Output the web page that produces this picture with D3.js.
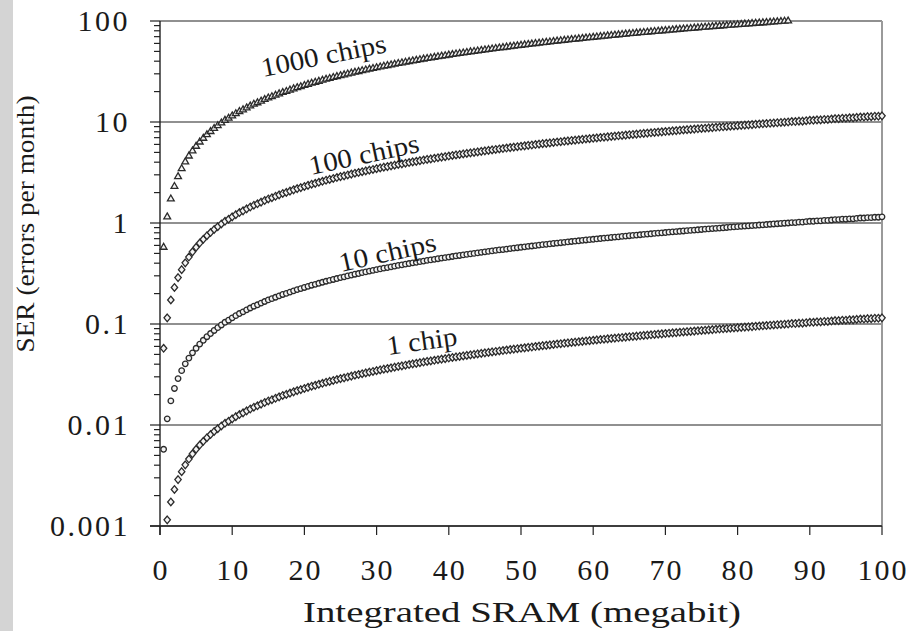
<!DOCTYPE html>
<html lang="en">
<head>
<meta charset="UTF-8">
<title>SER vs integrated SRAM</title>
<style>
  body { margin: 0; background: #fff; }
  svg text { font-family: "Liberation Serif", "Times New Roman", serif; fill: #1a1a1a; }
  .grid { stroke: #222; stroke-width: 1.2; }
  .axis-line { stroke: #222; stroke-width: 1.4; }
  .tick { stroke: #222; stroke-width: 1.2; }
  .mark { fill: #f4f4f4; stroke: #2b2b2b; stroke-width: 1.3; }
</style>
</head>
<body>
<svg width="916" height="631"></svg>
<script src="https://d3js.org/d3.v7.min.js"></script>
<script>
// integrated SRAM size (megabit), one point every 0.5 Mbit
var sizes = [
  0.5,1,1.5,2,2.5,3,3.5,4,4.5,5,5.5,6,6.5,7,7.5,8,8.5,9,9.5,10,
  10.5,11,11.5,12,12.5,13,13.5,14,14.5,15,15.5,16,16.5,17,17.5,18,18.5,19,19.5,20,
  20.5,21,21.5,22,22.5,23,23.5,24,24.5,25,25.5,26,26.5,27,27.5,28,28.5,29,29.5,30,
  30.5,31,31.5,32,32.5,33,33.5,34,34.5,35,35.5,36,36.5,37,37.5,38,38.5,39,39.5,40,
  40.5,41,41.5,42,42.5,43,43.5,44,44.5,45,45.5,46,46.5,47,47.5,48,48.5,49,49.5,50,
  50.5,51,51.5,52,52.5,53,53.5,54,54.5,55,55.5,56,56.5,57,57.5,58,58.5,59,59.5,60,
  60.5,61,61.5,62,62.5,63,63.5,64,64.5,65,65.5,66,66.5,67,67.5,68,68.5,69,69.5,70,
  70.5,71,71.5,72,72.5,73,73.5,74,74.5,75,75.5,76,76.5,77,77.5,78,78.5,79,79.5,80,
  80.5,81,81.5,82,82.5,83,83.5,84,84.5,85,85.5,86,86.5,87,87.5,88,88.5,89,89.5,90,
  90.5,91,91.5,92,92.5,93,93.5,94,94.5,95,95.5,96,96.5,97,97.5,98,98.5,99,99.5,100
];

// SER (errors per month); null = below the axis
var ser1 = [
  null,0.00115,0.00173,0.0023,0.00288,0.00345,0.00403,0.0046,0.00518,0.00575,0.00633,0.0069,0.00748,0.00805,0.00863,0.0092,0.00978,0.0104,0.0109,0.0115,
  0.0121,0.0127,0.0132,0.0138,0.0144,0.015,0.0155,0.0161,0.0167,0.0173,0.0178,0.0184,0.019,0.0196,0.0201,0.0207,0.0213,0.0219,0.0224,0.023,
  0.0236,0.0242,0.0247,0.0253,0.0259,0.0265,0.027,0.0276,0.0282,0.0288,0.0293,0.0299,0.0305,0.0311,0.0316,0.0322,0.0328,0.0334,0.0339,0.0345,
  0.0351,0.0357,0.0362,0.0368,0.0374,0.038,0.0385,0.0391,0.0397,0.0403,0.0408,0.0414,0.042,0.0426,0.0431,0.0437,0.0443,0.0449,0.0454,0.046,
  0.0466,0.0472,0.0477,0.0483,0.0489,0.0495,0.05,0.0506,0.0512,0.0518,0.0523,0.0529,0.0535,0.0541,0.0546,0.0552,0.0558,0.0564,0.0569,0.0575,
  0.0581,0.0587,0.0592,0.0598,0.0604,0.061,0.0615,0.0621,0.0627,0.0633,0.0638,0.0644,0.065,0.0656,0.0661,0.0667,0.0673,0.0679,0.0684,0.069,
  0.0696,0.0702,0.0707,0.0713,0.0719,0.0725,0.073,0.0736,0.0742,0.0748,0.0753,0.0759,0.0765,0.0771,0.0776,0.0782,0.0788,0.0794,0.0799,0.0805,
  0.0811,0.0817,0.0822,0.0828,0.0834,0.084,0.0845,0.0851,0.0857,0.0863,0.0868,0.0874,0.088,0.0886,0.0891,0.0897,0.0903,0.0909,0.0914,0.092,
  0.0926,0.0932,0.0937,0.0943,0.0949,0.0955,0.096,0.0966,0.0972,0.0978,0.0983,0.0989,0.0995,0.1,0.101,0.101,0.102,0.102,0.103,0.104,
  0.104,0.105,0.105,0.106,0.106,0.107,0.108,0.108,0.109,0.109,0.11,0.11,0.111,0.112,0.112,0.113,0.113,0.114,0.114,0.115
];
var ser10 = [
  0.00575,0.0115,0.0173,0.023,0.0288,0.0345,0.0403,0.046,0.0518,0.0575,0.0633,0.069,0.0748,0.0805,0.0863,0.092,0.0978,0.104,0.109,0.115,
  0.121,0.127,0.132,0.138,0.144,0.15,0.155,0.161,0.167,0.173,0.178,0.184,0.19,0.196,0.201,0.207,0.213,0.219,0.224,0.23,
  0.236,0.242,0.247,0.253,0.259,0.265,0.27,0.276,0.282,0.288,0.293,0.299,0.305,0.311,0.316,0.322,0.328,0.334,0.339,0.345,
  0.351,0.357,0.362,0.368,0.374,0.38,0.385,0.391,0.397,0.403,0.408,0.414,0.42,0.426,0.431,0.437,0.443,0.449,0.454,0.46,
  0.466,0.472,0.477,0.483,0.489,0.495,0.5,0.506,0.512,0.518,0.523,0.529,0.535,0.541,0.546,0.552,0.558,0.564,0.569,0.575,
  0.581,0.587,0.592,0.598,0.604,0.61,0.615,0.621,0.627,0.633,0.638,0.644,0.65,0.656,0.661,0.667,0.673,0.679,0.684,0.69,
  0.696,0.702,0.707,0.713,0.719,0.725,0.73,0.736,0.742,0.748,0.753,0.759,0.765,0.771,0.776,0.782,0.788,0.794,0.799,0.805,
  0.811,0.817,0.822,0.828,0.834,0.84,0.845,0.851,0.857,0.863,0.868,0.874,0.88,0.886,0.891,0.897,0.903,0.909,0.914,0.92,
  0.926,0.932,0.937,0.943,0.949,0.955,0.96,0.966,0.972,0.978,0.983,0.989,0.995,1,1.01,1.01,1.02,1.02,1.03,1.04,
  1.04,1.05,1.05,1.06,1.06,1.07,1.08,1.08,1.09,1.09,1.1,1.1,1.11,1.12,1.12,1.13,1.13,1.14,1.14,1.15
];
var ser100 = [
  0.0575,0.115,0.173,0.23,0.288,0.345,0.403,0.46,0.518,0.575,0.633,0.69,0.748,0.805,0.863,0.92,0.978,1.04,1.09,1.15,
  1.21,1.27,1.32,1.38,1.44,1.5,1.55,1.61,1.67,1.73,1.78,1.84,1.9,1.96,2.01,2.07,2.13,2.19,2.24,2.3,
  2.36,2.42,2.47,2.53,2.59,2.65,2.7,2.76,2.82,2.88,2.93,2.99,3.05,3.11,3.16,3.22,3.28,3.34,3.39,3.45,
  3.51,3.57,3.62,3.68,3.74,3.8,3.85,3.91,3.97,4.03,4.08,4.14,4.2,4.26,4.31,4.37,4.43,4.49,4.54,4.6,
  4.66,4.72,4.77,4.83,4.89,4.95,5,5.06,5.12,5.18,5.23,5.29,5.35,5.41,5.46,5.52,5.58,5.64,5.69,5.75,
  5.81,5.87,5.92,5.98,6.04,6.1,6.15,6.21,6.27,6.33,6.38,6.44,6.5,6.56,6.61,6.67,6.73,6.79,6.84,6.9,
  6.96,7.02,7.07,7.13,7.19,7.25,7.3,7.36,7.42,7.48,7.53,7.59,7.65,7.71,7.76,7.82,7.88,7.94,7.99,8.05,
  8.11,8.17,8.22,8.28,8.34,8.4,8.45,8.51,8.57,8.63,8.68,8.74,8.8,8.86,8.91,8.97,9.03,9.09,9.14,9.2,
  9.26,9.32,9.37,9.43,9.49,9.55,9.6,9.66,9.72,9.78,9.83,9.89,9.95,10,10.1,10.1,10.2,10.2,10.3,10.4,
  10.4,10.5,10.5,10.6,10.6,10.7,10.8,10.8,10.9,10.9,11,11,11.1,11.2,11.2,11.3,11.3,11.4,11.4,11.5
];
// 1000 chips runs off the top of the chart after ~87 Mbit
var ser1000 = [
  0.575,1.15,1.73,2.3,2.88,3.45,4.03,4.6,5.18,5.75,6.33,6.9,7.48,8.05,8.63,9.2,9.78,10.4,10.9,11.5,
  12.1,12.7,13.2,13.8,14.4,15,15.5,16.1,16.7,17.3,17.8,18.4,19,19.6,20.1,20.7,21.3,21.9,22.4,23,
  23.6,24.2,24.7,25.3,25.9,26.5,27,27.6,28.2,28.8,29.3,29.9,30.5,31.1,31.6,32.2,32.8,33.4,33.9,34.5,
  35.1,35.7,36.2,36.8,37.4,38,38.5,39.1,39.7,40.3,40.8,41.4,42,42.6,43.1,43.7,44.3,44.9,45.4,46,
  46.6,47.2,47.7,48.3,48.9,49.5,50,50.6,51.2,51.8,52.3,52.9,53.5,54.1,54.6,55.2,55.8,56.4,56.9,57.5,
  58.1,58.7,59.2,59.8,60.4,61,61.5,62.1,62.7,63.3,63.8,64.4,65,65.6,66.1,66.7,67.3,67.9,68.4,69,
  69.6,70.2,70.7,71.3,71.9,72.5,73,73.6,74.2,74.8,75.3,75.9,76.5,77.1,77.6,78.2,78.8,79.4,79.9,80.5,
  81.1,81.7,82.2,82.8,83.4,84,84.5,85.1,85.7,86.3,86.8,87.4,88,88.6,89.1,89.7,90.3,90.9,91.4,92,
  92.6,93.2,93.7,94.3,94.9,95.5,96,96.6,97.2,97.8,98.3,98.9,99.5,100
];

var seriesNames = ["1 chip", "10 chips", "100 chips", "1000 chips"];
var xTicks = [0, 10, 20, 30, 40, 50, 60, 70, 80, 90, 100];
var yTicks = [0.001, 0.01, 0.1, 1, 10, 100];
var yTickLabels = ["0.001", "0.01", "0.1", "1", "10", "100"];

(function () {
  var svg = d3.select("svg");
  var mLeft = 160, mRight = 882, mTop = 21, mBottom = 526;
  var serif = "'Liberation Serif', 'Times New Roman', serif";

  var x = d3.scaleLinear().domain([0, 100]).range([mLeft, mRight]);
  var y = d3.scaleLog().domain([0.001, 100]).range([mBottom, mTop]);

  // grey strip on the left edge
  svg.append("rect").attr("x", 0).attr("y", 0).attr("width", 13).attr("height", 631).attr("fill", "#d4d4d4");

  // horizontal grid at each decade
  svg.selectAll(".grid").data(yTicks).enter().append("line")
    .attr("class", "grid")
    .attr("x1", mLeft).attr("x2", mRight)
    .attr("y1", d => y(d)).attr("y2", d => y(d));

  // right frame edge
  svg.append("line").attr("x1", mRight).attr("x2", mRight).attr("y1", mTop).attr("y2", mBottom)
    .attr("stroke", "#9a9a9a").attr("stroke-width", 2);

  // y ticks (major + minor log ticks)
  var isMajor = d => Math.abs(Math.log10(d) - Math.round(Math.log10(d))) < 1e-9;
  svg.selectAll(".ytick").data(y.ticks()).enter().append("line")
    .attr("class", "tick")
    .attr("x1", d => isMajor(d) ? mLeft - 10 : mLeft - 6)
    .attr("x2", mLeft)
    .attr("y1", d => y(d)).attr("y2", d => y(d));

  svg.selectAll(".ylab").data(yTicks).enter().append("text")
    .attr("x", 130).attr("y", d => y(d) + 10)
    .attr("text-anchor", "end")
    .attr("font-family", serif)
    .style("font-size", "30px").style("letter-spacing", "2.5px")
    .text((d, i) => yTickLabels[i]);

  // x ticks
  svg.selectAll(".xtick").data(xTicks).enter().append("line")
    .attr("class", "tick")
    .attr("x1", d => x(d)).attr("x2", d => x(d))
    .attr("y1", mBottom).attr("y2", mBottom + 9);

  svg.selectAll(".xlab").data(xTicks).enter().append("text")
    .attr("x", d => x(d) + 1).attr("y", 580)
    .attr("text-anchor", "middle")
    .attr("font-family", serif)
    .style("font-size", "30px").style("letter-spacing", "2px")
    .text(d => d);

  // axis lines
  svg.append("line").attr("class", "axis-line").attr("x1", mLeft).attr("x2", mLeft).attr("y1", mTop).attr("y2", mBottom + 9);
  svg.append("line").attr("class", "axis-line").attr("x1", mLeft - 10).attr("x2", mRight).attr("y1", mBottom).attr("y2", mBottom);

  // markers
  var diamond = "M0,-3.8L3.2,0L0,3.8L-3.2,0Z";
  var triangle = d3.symbol().type(d3.symbolTriangle).size(20)();
  var circle = d3.symbol().type(d3.symbolCircle).size(24)();
  var series = [
    { name: seriesNames[0], vals: ser1, shape: diamond },
    { name: seriesNames[1], vals: ser10, shape: circle },
    { name: seriesNames[2], vals: ser100, shape: diamond },
    { name: seriesNames[3], vals: ser1000, shape: triangle }
  ];

  series.forEach(function (s) {
    var pts = s.vals.map((v, i) => ({ x: sizes[i], v: v }))
      .filter(d => d.v != null && d.v >= 0.001 && d.v <= 100);
    svg.append("g").selectAll("path").data(pts).enter().append("path")
      .attr("class", "mark")
      .attr("d", s.shape)
      .attr("transform", d => "translate(" + x(d.x) + "," + y(d.v) + ")");
  });

  // in-plot series labels
  var labels = [
    { text: seriesNames[3], x: 263, y: 77, a: -11.4, len: 127 },
    { text: seriesNames[2], x: 311, y: 175, a: -12, len: 112 },
    { text: seriesNames[1], x: 341, y: 272, a: -12.5, len: 99 },
    { text: seriesNames[0], x: 388, y: 355, a: -8, len: 71 }
  ];
  svg.selectAll(".slab").data(labels).enter().append("text")
    .attr("transform", d => "translate(" + d.x + "," + d.y + ") rotate(" + d.a + ")")
    .attr("textLength", d => d.len).attr("lengthAdjust", "spacingAndGlyphs")
    .attr("font-family", serif)
    .style("font-size", "27px")
    .text(d => d.text);

  // axis titles
  svg.append("text")
    .attr("x", 303).attr("y", 622)
    .attr("textLength", 438).attr("lengthAdjust", "spacingAndGlyphs")
    .attr("font-family", serif)
    .style("font-size", "30px")
    .text("Integrated SRAM (megabit)");

  svg.append("text")
    .attr("transform", "translate(34,224) rotate(-90)")
    .attr("text-anchor", "middle")
    .attr("textLength", 257).attr("lengthAdjust", "spacingAndGlyphs")
    .attr("font-family", serif)
    .style("font-size", "25px")
    .text("SER (errors per month)");
})();
</script>
</body>
</html>
